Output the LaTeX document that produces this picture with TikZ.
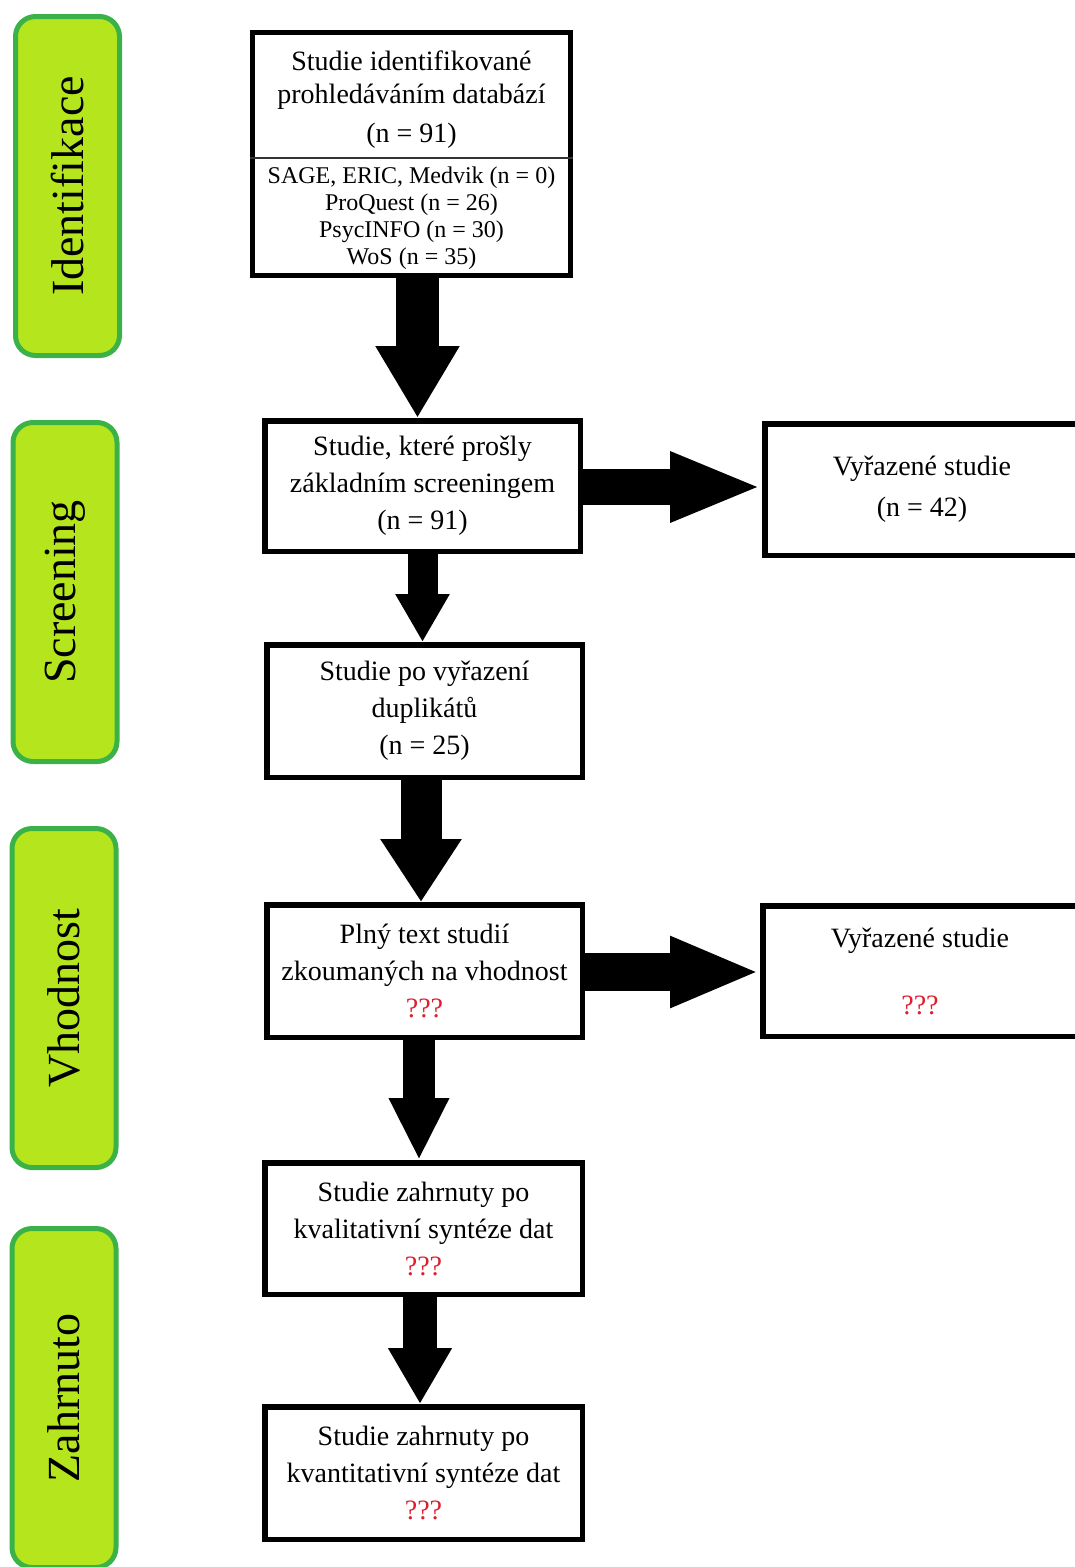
\documentclass[tikz,border=0pt]{standalone}
\usepackage{fontspec}
\setmainfont{Liberation Serif}
\usetikzlibrary{arrows.meta}
\definecolor{phasefill}{RGB}{181,230,29}
\definecolor{phaseline}{RGB}{58,178,72}
\definecolor{qred}{RGB}{222,30,45}
\begin{document}
\begin{tikzpicture}[x=1pt,y=-1pt,
        phase/.style={draw=phaseline, fill=phasefill, line width=5pt, rounded corners=20pt,
            minimum width=104pt, minimum height=339pt, inner sep=0pt},
        phasetext/.style={rotate=90, font=\fontsize{46}{50}\selectfont},
        box/.style={draw=black, line width=5.5pt, fill=white, align=center, inner sep=0pt,
            font=\fontsize{28}{37}\selectfont},
        bigarrow/.style n args={3}{line width=#1, -{Triangle[width=#2,length=#3]}}]
            \clip (0,0) rectangle (1075,1567);
            % phases
            \node [phase] (pident) at (67.5,186) {};
            \node [phasetext] at (pident.center) {Identifikace};
            \node [phase] (pscreen) at (65,592) {};
            \node [phasetext] at (pscreen.center) {Screening};
            \node [phase] (pelig) at (64,998) {};
            \node [phasetext] at (pelig.center) {Vhodnost};
            \node [phase] (pincl) at (64,1398) {};
            \node [phasetext] at (pincl.center) {Zahrnuto};
            % boxes
            \node [box, minimum width=318pt, minimum height=243pt] (ident) at (411.5,154) {};
            \node [align=center, font=\fontsize{28}{33}\selectfont] (identtop) at (411.5,100)
                {Studie identifikované\\prohledáváním databází\\[6pt](n = 91)};
            \draw [line width=1.5pt, black!80] (ident.west |- 0,158) -- (ident.east |- 0,158);
            \node [align=center, font=\fontsize{24}{27}\selectfont] (identdb) at (411.5,218)
                {SAGE, ERIC, Medvik (n = 0)\\ProQuest (n = 26)\\PsycINFO (n = 30)\\WoS (n = 35)};
            \node [box, minimum width=315.5pt, minimum height=130.5pt] (screen) at (422.5,486)
                {Studie, které prošly\\základním screeningem\\(n = 91)};
            \node [box, minimum width=314.5pt, minimum height=131.5pt] (excl1) at (922,489.5)
                {Vyřazené studie\\[4pt](n = 42)};
            \node [box, minimum width=315.5pt, minimum height=132.5pt] (dedup) at (424.5,711)
                {Studie po vyřazení\\duplikátů\\(n = 25)};
            \node [box, minimum width=315.5pt, minimum height=132.5pt] (full) at (424.5,971)
                {Plný text studií\\zkoumaných na vhodnost\\\textcolor{qred}{???}};
            \node [box, minimum width=314.5pt, minimum height=130.5pt] (excl2) at (920,971)
                {Vyřazené studie\\[30pt]\textcolor{qred}{???}};
            \node [box, minimum width=317.5pt, minimum height=131.5pt] (quali) at (423.5,1228.5)
                {Studie zahrnuty po\\kvalitativní syntéze dat\\\textcolor{qred}{???}};
            \node [box, minimum width=317.5pt, minimum height=132.5pt] (quanti) at (423.5,1473)
                {Studie zahrnuty po\\kvantitativní syntéze dat\\\textcolor{qred}{???}};
            % arrows
            \draw [bigarrow={43pt}{79pt}{72pt}] ([xshift=6pt]ident.south) -- ([xshift=-5pt]screen.north);
            \draw [bigarrow={30pt}{51pt}{48pt}] (screen.south) -- (screen.south |- dedup.north);
            \draw [bigarrow={41pt}{77pt}{63pt}] ([xshift=-3.5pt]dedup.south) -- ([xshift=-3.5pt]dedup.south |- full.north);
            \draw [bigarrow={32pt}{56pt}{62pt}] ([xshift=-5.5pt]full.south) -- ([xshift=-5.5pt]full.south |- quali.north);
            \draw [bigarrow={34pt}{60pt}{56pt}] ([xshift=-3.5pt]quali.south) -- ([xshift=-3.5pt]quali.south |- quanti.north);
            \draw [bigarrow={36pt}{64pt}{92pt}] ([yshift=-1pt]screen.east) -- ([yshift=-1pt]screen.east -| excl1.west);
            \draw [bigarrow={38pt}{65pt}{90pt}] ([yshift=-1pt]full.east) -- ([yshift=-1pt]full.east -| excl2.west);
        \end{tikzpicture}
\end{document}
